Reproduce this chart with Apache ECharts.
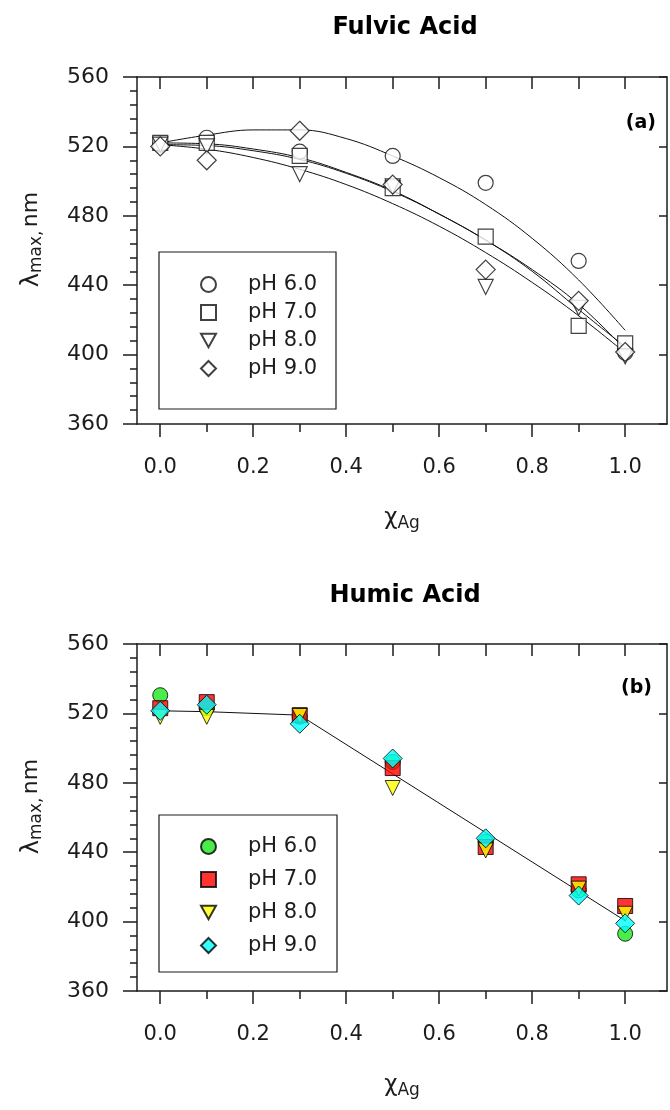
<!DOCTYPE html>
<html>
<head>
<meta charset="utf-8">
<script src="https://cdn.jsdelivr.net/npm/echarts@6/dist/echarts.min.js"></script>
<style>
  html, body { margin: 0; padding: 0; background: #fff; }
  #chart { width: 670px; height: 1110px; }
</style>
</head>
<body>
<div id="chart"></div>
<script>
// Silver mole fraction at which each spectrum was recorded
const xAg = [0, 0.1, 0.3, 0.5, 0.7, 0.9, 1.0];
const phLabels = ['pH 6.0', 'pH 7.0', 'pH 8.0', 'pH 9.0'];

// (a) Fulvic acid: lambda max (nm)
const faPH6 = [521, 525, 517, 514.5, 499, 454, 401];
const faPH7 = [522, 522, 514.5, 496, 468, 416.5, 406.5];
const faPH8 = [521, 520, 504, 497, 439, 427, 399];
const faPH9 = [520, 512, 529, 498, 449, 431, 401.5];

// (a) fitted curves, sampled every 0.1
const fitX = [0, 0.1, 0.2, 0.3, 0.4, 0.5, 0.6, 0.7, 0.8, 0.9, 1.0];
const faFit6 = [522, 526.5, 529.5, 529.5, 524.5, 514.5, 502, 486.5, 467, 443, 414];
const faFit7 = [522, 521.5, 518.5, 513.5, 505, 494.5, 481, 466, 448, 426, 404.5];
const faFit8 = [521, 518.4, 513.6, 506.8, 498, 487, 474, 458.8, 441.6, 422.4, 401];
const faFit9 = [521, 520.5, 517.5, 512.5, 504.5, 494, 481, 466, 449, 429, 403];

// (b) Humic acid: lambda max (nm)
const haPH6 = [530.5, 523, 518, 492, 446, 418, 393];
const haPH7 = [523, 526.5, 519, 488.5, 443, 421.5, 409];
const haPH8 = [518, 518, 518.5, 477, 441, 419, 404.5];
const haPH9 = [521.5, 525, 514, 494, 448, 415, 399];

// (b) trend line
const haTrendX = [0, 0.1, 0.3, 1.0];
const haTrendY = [521.5, 521, 519, 400.5];

// Axis ticks
const xMajorTicks = [0, 0.2, 0.4, 0.6, 0.8, 1.0];
const xMinorTicks = [0.1, 0.3, 0.5, 0.7, 0.9];
const xTopTicks = [0, 0.1, 0.2, 0.3, 0.4, 0.5, 0.6, 0.7, 0.8, 0.9, 1.0];
const yMin = 360, yMax = 560, yStep = 40;
const xMin = -0.05, xMax = 1.09;

const FONT = '"DejaVu Sans", Verdana, sans-serif';
const INK = '#1c1c1c';

const pair = (xs, ys) => xs.map((x, i) => [x, ys[i]]);

// Downward-pointing triangle used for the pH 8.0 legend entry
const DOWN_TRIANGLE = 'path://M0,0L20,0L10,18Z';

const markerShapes = [
  { symbol: 'circle', size: 15, rotate: 0 },
  { symbol: 'rect', size: 15, rotate: 0 },
  { symbol: 'triangle', size: 15, rotate: 180 },
  { symbol: 'diamond', size: 19, rotate: 0 }
];
const haFills = ['#1ee61e', '#ff0000', '#ffff00', '#00ffff'];

function axesFor(gridIndex) {
  const common = { gridIndex, type: 'value', min: xMin, max: xMax, splitLine: { show: false } };
  const lineStyle = { color: INK, width: 1.5 };
  return {
    x: [
      Object.assign({}, common, {
        position: 'bottom',
        axisLine: { show: true, onZero: false, lineStyle },
        axisTick: { show: true, customValues: xMajorTicks, length: 13, lineStyle: { color: INK, width: 1.5 } },
        axisLabel: {
          show: true, customValues: xMajorTicks, margin: 33,
          formatter: v => v.toFixed(1),
          fontFamily: FONT, fontSize: 21, color: INK
        },
        name: '{c|χ}{s|Ag}', nameLocation: 'middle', nameGap: 81,
        nameTextStyle: {
          rich: {
            c: { fontFamily: FONT, fontSize: 23, color: INK },
            s: { fontFamily: FONT, fontSize: 17, color: INK, padding: [10, 0, 0, 0] }
          }
        }
      }),
      Object.assign({}, common, {
        position: 'bottom',
        axisLine: { show: false, onZero: false },
        axisTick: { show: true, customValues: xMinorTicks, length: 8, lineStyle: { color: INK, width: 1.5 } },
        axisLabel: { show: false }
      }),
      Object.assign({}, common, {
        position: 'top',
        axisLine: { show: true, onZero: false, lineStyle },
        axisTick: { show: true, inside: true, customValues: xTopTicks, length: 12, lineStyle: { color: INK, width: 1.5 } },
        axisLabel: { show: false }
      })
    ],
    y: [
      {
        gridIndex, type: 'value', position: 'left', min: yMin, max: yMax, interval: yStep,
        splitLine: { show: false },
        axisLine: { show: true, onZero: false, lineStyle },
        axisTick: { show: true, length: 14, lineStyle: { color: INK, width: 1.5 } },
        minorTick: { show: true, splitNumber: 5, length: 7, lineStyle: { color: INK, width: 1.5 } },
        axisLabel: { margin: 28, fontFamily: FONT, fontSize: 22, color: INK },
        name: '{l|λ}{s|max,} {n|nm}', nameLocation: 'middle', nameRotate: 90, nameGap: 92,
        nameTextStyle: {
          rich: {
            l: { fontFamily: FONT, fontSize: 24, color: INK, padding: [0, 0, 0, 22] },
            s: { fontFamily: FONT, fontSize: 17, color: INK, padding: [10, 0, 0, 0] },
            n: { fontFamily: FONT, fontSize: 22, color: INK }
          }
        }
      },
      {
        gridIndex, type: 'value', position: 'right', min: yMin, max: yMax, interval: yStep,
        splitLine: { show: false },
        axisLine: { show: true, onZero: false, lineStyle },
        axisTick: { show: true, inside: true, length: 8, lineStyle: { color: INK, width: 1.5 } },
        axisLabel: { show: false }
      }
    ]
  };
}

const a = axesFor(0), b = axesFor(1);

const series = [];
// Fulvic acid fitted curves
[faFit6, faFit7, faFit8, faFit9].forEach(ys => {
  series.push({
    type: 'line', xAxisIndex: 0, yAxisIndex: 0, data: pair(fitX, ys),
    smooth: 0.4, showSymbol: false, silent: true, z: 2,
    lineStyle: { color: '#111', width: 1 }
  });
});
// Fulvic acid measurements (open symbols)
[faPH6, faPH7, faPH8, faPH9].forEach((ys, i) => {
  const m = markerShapes[i];
  series.push({
    name: 'FA|' + phLabels[i], type: 'scatter', xAxisIndex: 0, yAxisIndex: 0,
    data: pair(xAg, ys), symbol: m.symbol, symbolSize: m.size, symbolRotate: m.rotate, z: 3,
    itemStyle: { color: '#fff', borderColor: '#111', borderWidth: 1.2 }
  });
});
// Humic acid trend line
series.push({
  type: 'line', xAxisIndex: 3, yAxisIndex: 2, data: pair(haTrendX, haTrendY),
  showSymbol: false, silent: true, z: 2, lineStyle: { color: '#111', width: 1 }
});
// Humic acid measurements (filled symbols)
[haPH6, haPH7, haPH8, haPH9].forEach((ys, i) => {
  const m = markerShapes[i];
  series.push({
    name: 'HA|' + phLabels[i], type: 'scatter', xAxisIndex: 3, yAxisIndex: 2,
    data: pair(xAg, ys), symbol: m.symbol, symbolSize: m.size, symbolRotate: m.rotate, z: 3,
    itemStyle: { color: haFills[i], borderColor: '#000', borderWidth: 1 }
  });
});

const legendItems = prefix => phLabels.map((p, i) =>
  i === 2 ? { name: prefix + p, icon: DOWN_TRIANGLE } : { name: prefix + p });

const legendBase = {
  orient: 'vertical', left: 195, itemWidth: 15, itemHeight: 15, selectedMode: false,
  formatter: n => n.split('|')[1],
  textStyle: { fontFamily: FONT, fontSize: 21, color: INK, padding: [0, 0, 0, 27] }
};

const option = {
  animation: false,
  backgroundColor: '#fff',
  grid: [
    { left: 137, top: 77, width: 530, height: 347 },
    { left: 137, top: 644, width: 530, height: 347 }
  ],
  xAxis: a.x.concat(b.x),
  yAxis: a.y.concat(b.y),
  legend: [
    Object.assign({}, legendBase, { top: 269, itemGap: 7, data: legendItems('FA|') }),
    Object.assign({}, legendBase, { top: 831, itemGap: 12, data: legendItems('HA|') })
  ],
  graphic: [
    { type: 'text', x: 405, y: 28, style: { text: 'Fulvic Acid', font: 'bold 24px ' + FONT, fill: '#000', textAlign: 'center', textVerticalAlign: 'middle' } },
    { type: 'text', x: 405, y: 596, style: { text: 'Humic Acid', font: 'bold 24px ' + FONT, fill: '#000', textAlign: 'center', textVerticalAlign: 'middle' } },
    { type: 'text', x: 656, y: 123, style: { text: '(a)', font: 'bold 19px ' + FONT, fill: '#000', textAlign: 'right', textVerticalAlign: 'middle' } },
    { type: 'text', x: 652, y: 688, style: { text: '(b)', font: 'bold 19px ' + FONT, fill: '#000', textAlign: 'right', textVerticalAlign: 'middle' } },
    { type: 'rect', shape: { x: 159, y: 252, width: 177, height: 157 }, style: { fill: 'none', stroke: INK, lineWidth: 1.2 }, z: 1 },
    { type: 'rect', shape: { x: 159, y: 815, width: 178, height: 157 }, style: { fill: 'none', stroke: INK, lineWidth: 1.2 }, z: 1 }
  ],
  series
};

const chart = echarts.init(document.getElementById('chart'), null, { renderer: 'canvas' });
chart.setOption(option);
</script>
</body>
</html>
